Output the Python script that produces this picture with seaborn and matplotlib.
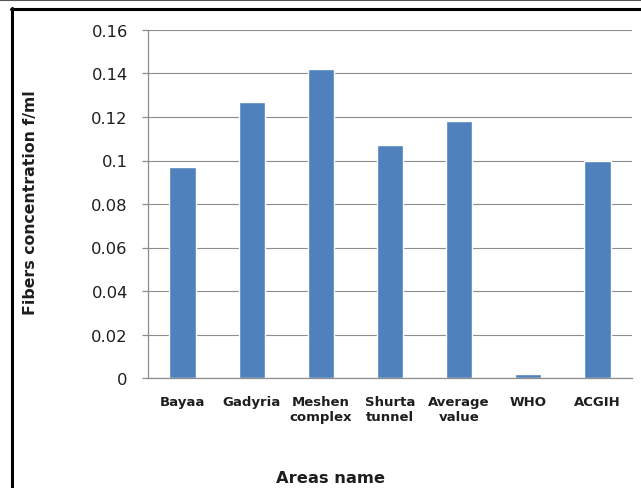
import matplotlib
matplotlib.use("Agg")
import matplotlib.pyplot as plt
import seaborn as sns
import pandas as pd
import numpy as np
from matplotlib.lines import Line2D

categories = ["Bayaa", "Gadyria", "Meshen\ncomplex", "Shurta\ntunnel", "Average\nvalue", "WHO", "ACGIH"]
values = [0.097, 0.127, 0.142, 0.107, 0.118, 0.002, 0.100]
yticks = [0, 0.02, 0.04, 0.06, 0.08, 0.1, 0.12, 0.14, 0.16]
ytick_labels = ["0", "0.02", "0.04", "0.06", "0.08", "0.1", "0.12", "0.14", "0.16"]

sns.set_style("white")
plt.rcParams['font.family'] = ['DejaVu Sans']

df = pd.DataFrame({"area": categories, "value": values})

fig = plt.figure(figsize=(6.41, 4.89), dpi=100)
ax = fig.add_axes([148/641, 1-379/489, (632-148)/641, (379-31)/489])

sns.barplot(data=df, x="area", y="value", color="#4F81BD", saturation=1, width=0.38, ax=ax)

ax.set_ylim(0, 0.16)
ax.set_xlim(-0.5, len(categories)-0.5)
ax.set_yticks(yticks)
ax.set_yticklabels(ytick_labels, fontsize=11.8, color="#1e1e1e")
ax.yaxis.grid(True, color="#8c8c8c", linewidth=0.8)
ax.set_axisbelow(True)

ax.set_xticks(range(len(categories)))
ax.set_xticklabels(categories, fontsize=9.5, fontweight="bold", color="#1e1e1e", linespacing=1.25)
ax.tick_params(axis="x", which="major", length=0, pad=12)
ax.set_xticks(np.arange(-0.5, len(categories), 1.0), minor=True)
ax.tick_params(axis="x", which="minor", length=4.5, color="#8c8c8c", width=0.9)
ax.tick_params(axis="y", length=4.5, color="#8c8c8c", width=0.9, left=True, pad=10)

for s in ["top", "right"]:
    ax.spines[s].set_visible(False)
for s in ["left", "bottom"]:
    ax.spines[s].set_color("#8c8c8c")
    ax.spines[s].set_linewidth(0.9)

ax.set_xlabel("")
ax.set_ylabel("")
fig.text(31/641, 1-203/489, "Fibers concentration f/ml", rotation=90, fontsize=11.3, fontweight="bold",
         ha="center", va="center", color="#1e1e1e")
fig.text(331/641, 1-479/489, "Areas name", fontsize=11.7, fontweight="bold", ha="center", va="center", color="#1e1e1e")

# outer frame (top and left edges visible)
fig.add_artist(Line2D([11.5/641, 11.5/641], [0, 1-9/489], transform=fig.transFigure, color="black", linewidth=2.2))
fig.add_artist(Line2D([10.5/641, 1], [1-9.5/489, 1-9.5/489], transform=fig.transFigure, color="black", linewidth=2.2))
fig.add_artist(Line2D([0, 1], [1-1/489, 1-1/489], transform=fig.transFigure, color="#555555", linewidth=1.5))

fig.savefig("out.png", dpi=100)
